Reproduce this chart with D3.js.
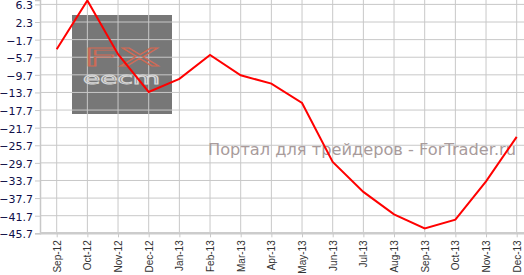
<!DOCTYPE html>
<html>
<head>
<meta charset="utf-8">
<script src="https://cdn.jsdelivr.net/npm/d3@7"></script>
<style>
body{margin:0;background:#fff;}
svg{display:block;}
</style>
</head>
<body>
<svg id="svg" width="524" height="275"></svg>
<script>
// data
const months=["Sep-12","Oct-12","Nov-12","Dec-12","Jan-13","Feb-13","Mar-13","Apr-13","May-13","Jun-13","Jul-13","Aug-13","Sep-13","Oct-13","Nov-13","Dec-13"];
const values=[-3.9,7.2,-5.0,-13.6,-10.6,-5.2,-9.8,-11.7,-16.1,-29.5,-36.3,-41.4,-44.6,-42.6,-33.9,-23.8];
const yTicks=[6.3,2.3,-1.7,-5.7,-9.7,-13.7,-17.7,-21.7,-25.7,-29.7,-33.7,-37.7,-41.7,-45.7];

const plotLeft=40, plotRight=524, plotTop=0, plotBottom=233.3;

var svg=d3.select("#svg");

var x=d3.scalePoint().domain(months).range([56.7,516.7]);
var y=d3.scaleLinear().domain([-45.7,7.3]).range([plotBottom,plotTop]);

// watermark box (behind the grid)
svg.append("rect")
    .attr("x",72).attr("y",15).attr("width",100).attr("height",99)
    .attr("fill","#777777");

// grid
var grid=svg.append("g");
grid.selectAll("line.h")
    .data(yTicks).enter().append("line")
        .attr("class","h")
        .attr("x1",plotLeft).attr("x2",plotRight)
        .attr("y1",d=>y(d)).attr("y2",d=>y(d))
        .attr("stroke","#c8c8c8")
        .attr("stroke-width",1)
grid.selectAll("line.v")
    .data(months).enter().append("line")
        .attr("class","v")
        .attr("x1",d=>x(d)).attr("x2",d=>x(d))
        .attr("y1",plotTop).attr("y2",plotBottom)
        .attr("stroke","#c8c8c8")
        .attr("stroke-width",1)

// logo letters on top of grid (thin outlines)
svg.append("text")
    .attr("x",83).attr("y",66)
    .attr("textLength",77).attr("lengthAdjust","spacingAndGlyphs")
    .style("font-family","DejaVu Sans").style("font-size","24px")
    .attr("fill","none").attr("stroke","#cf6a55").attr("stroke-width",0.9)
    .text("FX")
svg.append("text")
    .attr("x",83).attr("y",84)
    .attr("textLength",77).attr("lengthAdjust","spacingAndGlyphs")
    .style("font-family","DejaVu Sans").style("font-size","15px")
    .attr("fill","none").attr("stroke","#d8d8d8").attr("stroke-width",0.9)
    .text("eecm")

// watermark caption
svg.append("text")
    .attr("x",208).attr("y",155)
    .attr("textLength",308).attr("lengthAdjust","spacingAndGlyphs")
    .style("font-family","DejaVu Sans").style("font-size","16px")
    .attr("fill","#a89b9b")
    .text("Портал для трейдеров - ForTrader.ru")

// y axis
var yAxis=svg.append("g")
    .attr("transform","translate("+plotLeft+",0)")
    .call(d3.axisLeft(y).tickValues(yTicks).tickSize(5).tickPadding(2).tickFormat(d3.format(".1f")))
yAxis.select(".domain").attr("stroke","#c8c8c8").attr("stroke-width",1.5)
yAxis.selectAll(".tick line").attr("stroke","#c8c8c8")
yAxis.selectAll("text")
    .style("font-family","Verdana, DejaVu Sans").style("font-size","11px")
    .attr("dy","0.4em")
    .attr("fill","#10104a")

// x axis
var xAxis=svg.append("g")
    .attr("transform","translate(0,"+plotBottom+")")
    .call(d3.axisBottom(x).tickSize(4).tickSizeOuter(0))
xAxis.select(".domain").attr("d","M"+plotLeft+",0H"+plotRight).attr("stroke","#cccccc").attr("stroke-width",2.5)
xAxis.selectAll(".tick line").attr("stroke","#c8c8c8")
xAxis.selectAll("text")
    .attr("transform","rotate(-90)")
    .attr("x",-7).attr("y",0).attr("dy","0.35em")
    .style("text-anchor","end")
    .style("font-family","Arial, Liberation Sans").style("font-size","10px")
    .attr("fill","#333333")

// series line
svg.append("path")
    .datum(values)
    .attr("d",d3.line().x((d,i)=>x(months[i])).y(d=>y(d)))
    .attr("fill","none")
    .attr("stroke","#ff0000")
    .attr("stroke-width",2)
</script>
</body>
</html>
